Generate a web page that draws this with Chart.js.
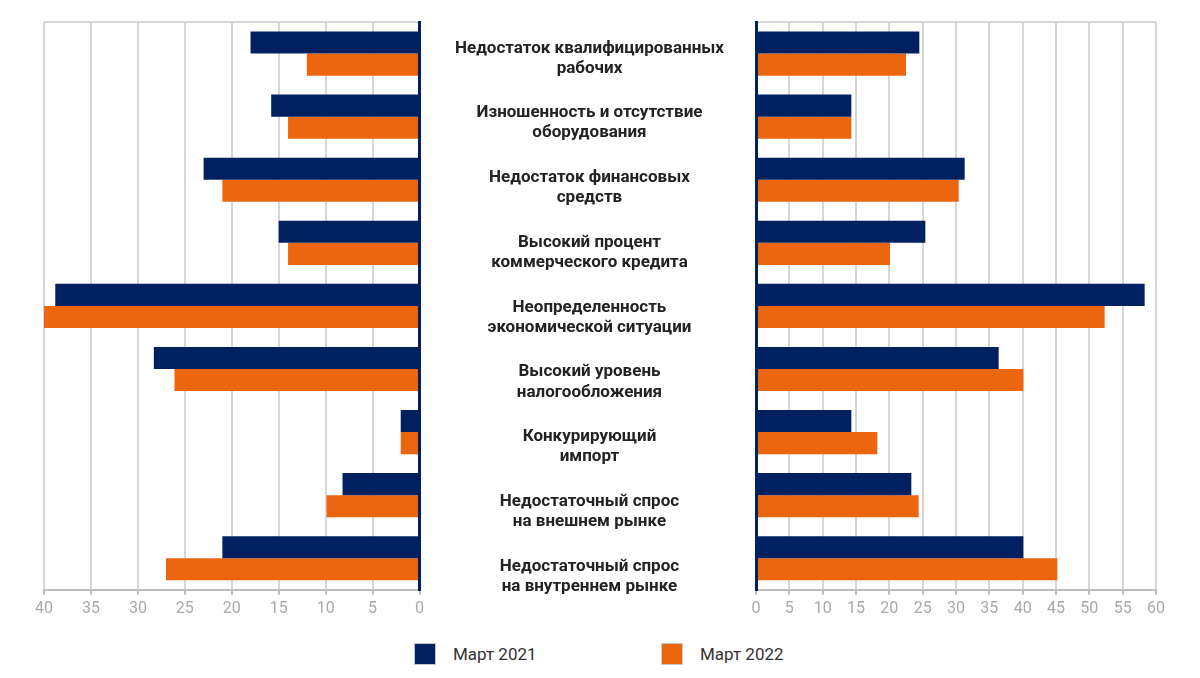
<!DOCTYPE html>
<html>
<head>
<meta charset="utf-8">
<script src="https://cdn.jsdelivr.net/npm/chart.js@4.4.1/dist/chart.umd.min.js"></script>
<style>
  body { margin: 0; background: #fff; width: 1200px; height: 678px; position: relative; overflow: hidden; font-family: Roboto, sans-serif; }
  canvas { position: absolute; top: 0; }
  #left { left: 0; }
  #right { left: 420px; }
  #middle { left: 420px; }
  #legend { position: absolute; top: 642px; left: 0; width: 1200px; height: 24px; }
  .item { position: absolute; top: 0; height: 24px; display: flex; align-items: center; font-size: 17px; color: #333; }
  .box { width: 22px; height: 22px; margin-right: 17px; border: 1px solid #c8c8c8; box-sizing: border-box; }
</style>
</head>
<body>
<canvas id="left" width="429" height="640"></canvas>
<canvas id="right" width="780" height="640"></canvas>
<canvas id="middle" width="346" height="640"></canvas>
<div id="legend"></div>
<script>
// categories (shown in the middle column)
let categories = [
  ["Недостаток квалифицированных", "рабочих"],
  ["Изношенность и отсутствие", "оборудования"],
  ["Недостаток финансовых", "средств"],
  ["Высокий процент", "коммерческого кредита"],
  ["Неопределенность", "экономической ситуации"],
  ["Высокий уровень", "налогообложения"],
  ["Конкурирующий", "импорт"],
  ["Недостаточный спрос", "на внешнем рынке"],
  ["Недостаточный спрос", "на внутреннем рынке"]
];
let seriesNames = ["Март 2021", "Март 2022"];
let seriesColors = ["#002060", "#ec650f"];
// left panel values
let left2021 = [18.0, 15.8, 23.0, 15.0, 38.8, 28.3, 2.0, 8.2, 21.0];
let left2022 = [12.0, 14.0, 21.0, 14.0, 40.2, 26.1, 2.0, 9.9, 27.0];
// right panel values
let right2021 = [24.5, 14.3, 31.3, 25.4, 58.3, 36.4, 14.3, 23.3, 40.1];
let right2022 = [22.5, 14.3, 30.4, 20.1, 52.3, 40.1, 18.2, 24.4, 45.2];
let leftTicks = { min: 0, max: 40, step: 5 };
let rightTicks = { min: 0, max: 60, step: 5 };

const gridGrey = "#d6d6d6";
const tickGrey = "#a9a9a9";

function makeDatasets(a, b) {
  return [a, b].map((vals, i) => ({
    label: seriesNames[i],
    data: vals,
    backgroundColor: seriesColors[i],
    borderWidth: 0,
    categoryPercentage: 0.7,
    barPercentage: 1.0
  }));
}

function xScale(t, reverse) {
  return {
    min: t.min,
    max: t.max,
    reverse: reverse,
    ticks: { stepSize: t.step, color: tickGrey, font: { family: "Roboto", size: 16 }, padding: 5, maxRotation: 0 },
    grid: {
      color: c => (c.tick && c.tick.value === 0 ? "transparent" : gridGrey),
      lineWidth: 2,
      tickLength: 5,
      tickColor: "#bdbdbd"
    },
    border: { color: "#bdbdbd", width: 2 }
  };
}

function yGrid() {
  return {
    display: true,
    drawTicks: false,
    color: c => (c.index === 0 ? gridGrey : "transparent"),
    lineWidth: 2
  };
}

// the tick padding is only meant to push labels sideways, not to pad the chart top
function noVerticalPad(scale) {
  scale.paddingTop = 0;
  scale.paddingBottom = 0;
}

let leftChart = new Chart(document.getElementById("left").getContext("2d"), {
  type: "bar",
  data: { labels: categories, datasets: makeDatasets(left2021, left2022) },
  options: {
    indexAxis: "y",
    responsive: false,
    animation: false,
    layout: { padding: { left: 44, right: 5, top: 22, bottom: 16 } },
    plugins: { legend: { display: false }, tooltip: { enabled: false } },
    scales: {
      x: xScale(leftTicks, true),
      y: {
        position: "right",
        ticks: { display: false },
        grid: yGrid(),
        border: { color: "#002060", width: 3, z: 1 },
        afterFit: noVerticalPad
      }
    }
  }
});

let rightChart = new Chart(document.getElementById("right").getContext("2d"), {
  type: "bar",
  data: { labels: categories, datasets: makeDatasets(right2021, right2022) },
  options: {
    indexAxis: "y",
    responsive: false,
    animation: false,
    layout: { padding: { left: 0, right: 44, top: 22, bottom: 16 } },
    plugins: { legend: { display: false }, tooltip: { enabled: false } },
    scales: {
      x: xScale(rightTicks, false),
      y: {
        position: "left",
        ticks: { display: false },
        grid: yGrid(),
        border: { color: "#002060", width: 3, z: 1 },
        afterFit: scale => { scale.width = 336; noVerticalPad(scale); }
      }
    }
  }
});

// middle column: only the category axis, its text block is a bit taller than the bars
let middleChart = new Chart(document.getElementById("middle").getContext("2d"), {
  type: "bar",
  data: { labels: categories, datasets: [] },
  options: {
    indexAxis: "y",
    responsive: false,
    animation: false,
    layout: { padding: { left: 0, right: 0, top: 26, bottom: 31 } },
    plugins: { legend: { display: false }, tooltip: { enabled: false } },
    scales: {
      x: { display: false },
      y: {
        position: "left",
        offset: true,
        ticks: {
          crossAlign: "center",
          padding: 32,
          color: "#222",
          font: { family: "Roboto", size: 17, weight: "bold", lineHeight: 1.18 }
        },
        grid: { display: false, drawTicks: false },
        border: { display: false },
        afterFit: scale => { scale.width = 336; noVerticalPad(scale); }
      }
    }
  }
});

// legend
let legend = document.getElementById("legend");
let legendX = [414, 661];
seriesNames.forEach((name, i) => {
  let item = document.createElement("div");
  item.className = "item";
  item.style.left = legendX[i] + "px";
  let box = document.createElement("div");
  box.className = "box";
  box.style.background = seriesColors[i];
  item.appendChild(box);
  item.appendChild(document.createTextNode(name));
  legend.appendChild(item);
});
</script>
</body>
</html>
